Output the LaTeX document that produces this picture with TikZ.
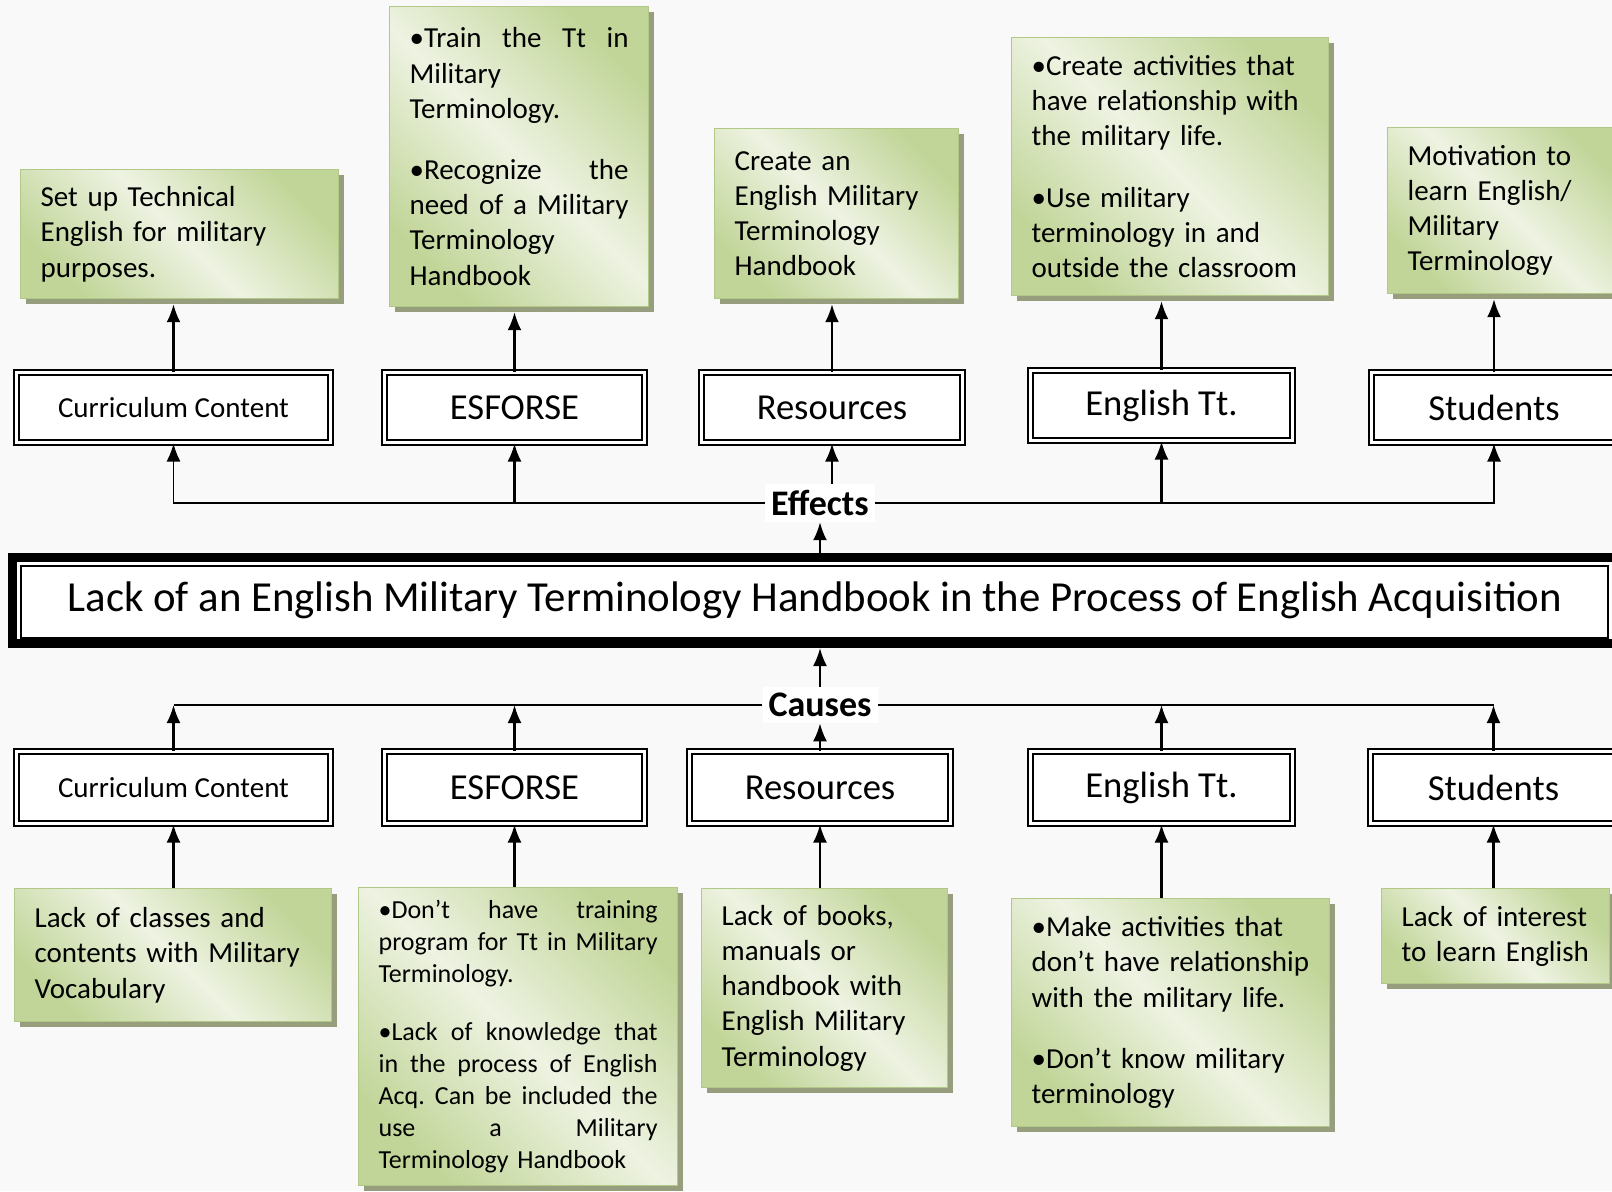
\documentclass[tikz,border=0pt]{standalone}
\usepackage{fontspec}
\setmainfont{Carlito}
\usetikzlibrary{arrows.meta,shadows}

\definecolor{leafedge}{RGB}{193,213,152}
\definecolor{leafmid}{RGB}{238,243,226}
\definecolor{leafline}{RGB}{178,200,135}
\definecolor{leafshadow}{RGB}{150,158,125}
\definecolor{paper}{RGB}{249,249,249}

\newcommand{\leaffont}{\fontsize{14.5}{17.6}\selectfont}
\newcommand{\smallleaffont}{\fontsize{13}{16}\selectfont}
\newcommand{\ccfont}{\fontsize{14.5}{17.6}\selectfont}
\newcommand{\catfont}{\fontsize{18.3}{22}\selectfont}

\tikzset{
  leaf/.style={anchor=north west, align=left, inner xsep=10pt, inner ysep=0pt,
    draw=leafline, line width=0.6pt,
    top color=leafedge, bottom color=leafedge, middle color=leafmid, shading angle=-45,
    drop shadow={shadow xshift=2.5pt, shadow yshift=-2.5pt, fill=leafshadow, opacity=1},
    font=\leaffont},
  category/.style={draw, double, line width=1pt, double distance=1.5pt, fill=white,
    inner sep=0pt},
  mainbox/.style={draw, line width=4.5pt, fill=white, inner sep=0pt},
  tag/.style={font=\fontsize{18}{21}\selectfont\bfseries, fill=white, inner sep=3pt},
  link/.style={-{Latex[length=9pt,width=7pt]}, line width=1.1pt},
}

\begin{document}
\begin{tikzpicture}[x=0.5pt, y=-0.5pt]

  % fondo
  \useasboundingbox (0,0) rectangle (1612,1191);
  \fill[paper] (0,0) rectangle (1612,1191);

  % problema central
  \node[mainbox, minimum width=802.5pt, minimum height=43pt, font=\fontsize{21.4}{25}\selectfont]
    (problem) at (815,600.5)
    {Lack of an English Military Terminology Handbook in the Process of English Acquisition};
  \draw[line width=1pt] ([shift={(13,13)}]problem.north west) rectangle ([shift={(-14,-10.5)}]problem.south east);

  % efectos: fila superior
  \foreach \n/\x/\y/\w/\f/\t in {cc1/173.5/407.5/157/\ccfont/Curriculum Content,
      es1/514.5/407.5/130/\catfont/ESFORSE, re1/832/407.5/130.5/\catfont/Resources,
      et1/1161.5/405.5/131/\catfont/English Tt., st1/1494/407.5/122.5/\catfont/Students}
    \node[category, minimum width=\w pt, minimum height=35pt, font=\f] (\n) at (\x,\y) {\t};

  % causas: fila inferior
  \foreach \n/\x/\y/\w/\f/\t in {cc2/173.5/787.5/157/\ccfont/Curriculum Content,
      es2/514.5/787.5/130/\catfont/ESFORSE, re2/820/787.5/130.5/\catfont/Resources,
      et2/1161.5/787.5/131/\catfont/English Tt., st2/1493.5/787.5/123/\catfont/Students}
    \node[category, minimum width=\w pt, minimum height=36pt, font=\f] (\n) at (\x,\y) {\t};

  % cajas verdes (efectos)
  \node[leaf, text width=139pt, minimum height=64.5pt] (g1) at (20,169)
    {Set up Technical\\ English for military\\ purposes.};
  \node[leaf, text width=109.5pt, minimum height=150pt] (g2) at (389,6)
    {\textbullet Train\hfill the\hfill Tt\hfill in\\ Military\\ Terminology.\\[13pt]
     \textbullet Recognize\hfill the\\ need\hfill of\hfill a\hfill Military\\ Terminology\\ Handbook};
  \node[leaf, text width=102pt, minimum height=85pt] (g3) at (714,128)
    {Create an\\ English Military\\ Terminology\\ Handbook};
  \node[leaf, text width=138.5pt, minimum height=129pt] (g4) at (1011,37)
    {\textbullet Create activities that\\ have relationship with\\ the military life.\\[13pt]
     \textbullet Use military\\ terminology in and\\ outside the classroom};
  \node[leaf, text width=100pt, minimum height=83pt] (g5) at (1387,127)
    {Motivation to\\ learn English/\\ Military\\ Terminology};

  % cajas verdes (causas)
  \node[leaf, text width=138.5pt, minimum height=66.5pt] (b1) at (14,888)
    {Lack of classes and\\ contents with Military\\ Vocabulary};
  \node[leaf, text width=139.5pt, minimum height=149pt, font=\smallleaffont] (b2) at (358,887)
    {\textbullet Don’t\hfill have\hfill training\\ program\hfill for\hfill Tt\hfill in\hfill Military\\ Terminology.\\[13pt]
     \textbullet Lack\hfill of\hfill knowledge\hfill that\\ in\hfill the\hfill process\hfill of\hfill English\\
     Acq.\hfill Can\hfill be\hfill included\hfill the\\ use\hfill a\hfill Military\\ Terminology Handbook};
  \node[leaf, text width=103pt, minimum height=99.5pt] (b3) at (701,888)
    {Lack of books,\\ manuals or\\ handbook with\\ English Military\\ Terminology};
  \node[leaf, text width=139pt, minimum height=114pt] (b4) at (1011,898)
    {\textbullet Make activities that\\ don’t have relationship\\ with the military life.\\[13pt]
     \textbullet Don’t know military\\ terminology};
  \node[leaf, text width=94pt, minimum height=47.5pt] (b5) at (1381,888)
    {Lack of interest\\ to learn English};

  % Effects
  \node[tag] (effects) at (820,503) {Effects};
  \draw[link] (problem.north -| effects) -- (effects.south);
  \draw[link, line width=0.8pt] (effects.west) -| (cc1.south);
  \draw[link, line width=0.8pt] (effects.east) -| (st1.south);
  \draw[link] (es1.south |- effects) -- (es1.south);
  \draw[link] (et1.south |- effects) -- (et1.south);
  \draw[link] (re1.south |- effects.north) -- (re1.south);

  % Causes
  \node[tag] (causes) at (820,705) {Causes};
  \draw[link] (causes.north) -- (causes.north |- problem.south);
  \draw[line width=0.8pt] (causes.west) -- (causes.west -| cc2.north);
  \draw[line width=0.8pt] (causes.east) -- (causes.east -| st2.north);
  \foreach \n in {cc2, es2, et2, st2}
    \draw[link] (\n.north) -- (\n.north |- causes.west);
  \draw[link] (re2.north -| causes) -- (causes.south);

  % flechas hacia las cajas verdes
  \foreach \n/\g in {cc1/g1, es1/g2, re1/g3, et1/g4, st1/g5}
    \draw[link] (\n.north) -- ([yshift=-2.5pt]\n.north |- \g.south);
  \foreach \n/\g in {cc2/b1, es2/b2, re2/b3, et2/b4, st2/b5}
    \draw[link] (\n.south |- \g.north) -- (\n.south);

\end{tikzpicture}
\end{document}
